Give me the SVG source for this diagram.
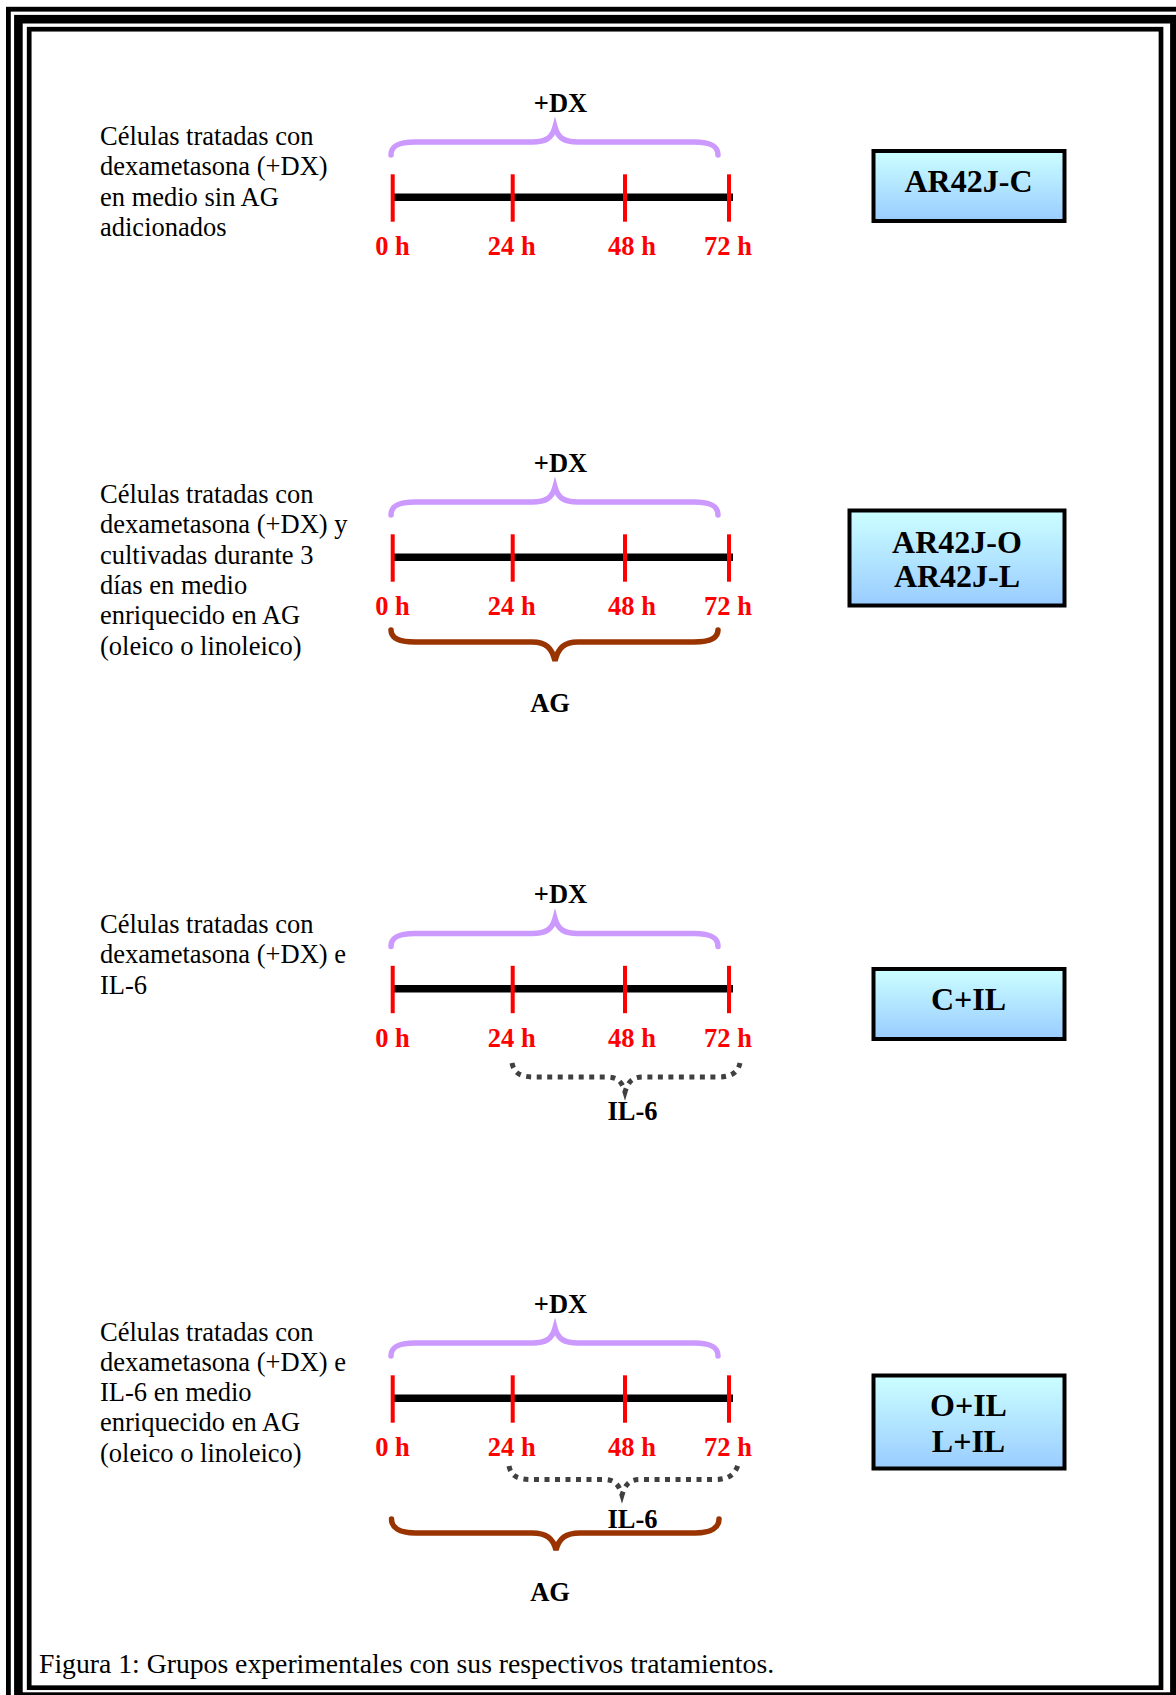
<svg xmlns="http://www.w3.org/2000/svg" width="1176" height="1695" viewBox="0 0 1176 1695">
<style>
.body{font-family:"Liberation Serif","Times New Roman",serif;font-size:26.5px;fill:#000}
.cap{font-family:"Liberation Serif","Times New Roman",serif;font-size:27.7px;fill:#000}
.lbl{font-family:"Liberation Serif","Times New Roman",serif;font-size:26.5px;font-weight:bold;fill:#000;text-anchor:middle}
.hr{font-family:"Liberation Serif","Times New Roman",serif;font-size:26.5px;font-weight:bold;fill:#FF0000;text-anchor:middle}
.box{fill:url(#bg);stroke:#000;stroke-width:4}
.boxt{font-family:"Liberation Serif","Times New Roman",serif;font-size:32px;font-weight:bold;fill:#000;text-anchor:middle}
.axis{stroke:#000;stroke-width:7.5}
.tick{stroke:#FF0000;stroke-width:4}
.dx{fill:none;stroke:#CC99FF;stroke-width:5.5;stroke-linecap:round}
.ag{fill:none;stroke:#993300;stroke-width:5.5;stroke-linecap:round}
.il{fill:none;stroke:#404040;stroke-width:5;stroke-dasharray:5 5.5}
.frame{fill:none;stroke:#000}
</style>
<defs>
<linearGradient id="bg" x1="0" y1="0" x2="0" y2="1">
<stop offset="0" stop-color="#CCFFFF"/>
<stop offset="1" stop-color="#99CCFF"/>
</linearGradient>
<g id="timeline">
<line class="axis" x1="393" y1="197.3" x2="733" y2="197.3"/>
<line class="tick" x1="392.7" y1="174.3" x2="392.7" y2="221.7"/>
<line class="tick" x1="512.7" y1="174.3" x2="512.7" y2="221.7"/>
<line class="tick" x1="625" y1="174.3" x2="625" y2="221.7"/>
<line class="tick" x1="729" y1="174.3" x2="729" y2="221.7"/>
<text class="hr" x="392.5" y="255">0 h</text>
<text class="hr" x="511.7" y="255">24 h</text>
<text class="hr" x="632" y="255">48 h</text>
<text class="hr" x="728" y="255">72 h</text>
<path class="dx" d="M391,155 C391,146 398,142 415,142 L532,142 C546,142 552,138 555,127 C558,138 564,142 578,142 L694,142 C711,142 718,146 718,155"/>
<text class="lbl" x="560.5" y="111.7">+DX</text>
</g>
</defs>

<g id="frame">
<rect class="frame" x="8.4" y="9.2" width="1173" height="1697" stroke-width="4.8"/>
<rect class="frame" x="18.4" y="19.2" width="1156" height="1677.4" stroke-width="8.6"/>
<rect class="frame" x="29.2" y="29.2" width="1131.8" height="1658.5" stroke-width="4.7"/>
</g>

<g id="group1">
<text class="body" x="100" y="145">Células tratadas con</text>
<text class="body" x="100" y="175.3">dexametasona (+DX)</text>
<text class="body" x="100" y="205.6">en medio sin AG</text>
<text class="body" x="100" y="236">adicionados</text>
<use href="#timeline"/>
</g>
<g id="box-AR42J-C">
<rect class="box" x="873.5" y="151" width="191" height="70"/>
<text class="boxt" x="968.5" y="191.7">AR42J-C</text>
</g>

<g id="group2">
<text class="body" x="100" y="503">Células tratadas con</text>
<text class="body" x="100" y="533.3">dexametasona (+DX) y</text>
<text class="body" x="100" y="563.6">cultivadas durante 3</text>
<text class="body" x="100" y="594">días en medio</text>
<text class="body" x="100" y="624.3">enriquecido en AG</text>
<text class="body" x="100" y="654.6">(oleico o linoleico)</text>
<use href="#timeline" transform="translate(0,360)"/>
<path class="ag" d="M391,630 C391,638 398,642 415,642 L532,642 C546,642 552,648 555,661 C558,648 564,642 578,642 L694,642 C711,642 718,638 718,630"/>
<text class="lbl" x="550" y="711.7">AG</text>
</g>
<g id="box-AR42J-OL">
<rect class="box" x="849.5" y="510.5" width="215" height="95"/>
<text class="boxt" x="957" y="552.5">AR42J-O</text>
<text class="boxt" x="957" y="587">AR42J-L</text>
</g>

<g id="group3">
<text class="body" x="100" y="933">Células tratadas con</text>
<text class="body" x="100" y="963.3">dexametasona (+DX) e</text>
<text class="body" x="100" y="993.6">IL-6</text>
<use href="#timeline" transform="translate(0,791.5)"/>
<path class="il" d="M512,1063 C514,1073 520,1077 535,1077 L607,1077 C618,1077 622,1082 625,1092 C628,1082 632,1077 643,1077 L718,1077 C732,1077 738,1072 740,1063"/>
<text class="lbl" x="632.5" y="1120">IL-6</text>
</g>
<g id="box-C-IL">
<rect class="box" x="873.5" y="969" width="191" height="70"/>
<text class="boxt" x="968.5" y="1009.7">C+IL</text>
</g>

<g id="group4">
<text class="body" x="100" y="1340.5">Células tratadas con</text>
<text class="body" x="100" y="1370.8">dexametasona (+DX) e</text>
<text class="body" x="100" y="1401.1">IL-6 en medio</text>
<text class="body" x="100" y="1431.4">enriquecido en AG</text>
<text class="body" x="100" y="1461.7">(oleico o linoleico)</text>
<use href="#timeline" transform="translate(0,1201)"/>
<path class="il" d="M509,1466 C511,1476 517,1479.5 532,1479.5 L604,1479.5 C615,1479.5 619,1485 622,1495 C625,1485 629,1479.5 640,1479.5 L715,1479.5 C729,1479.5 735,1474 738,1465"/>
<text class="lbl" x="632.5" y="1528.3">IL-6</text>
<path class="ag" d="M391.5,1519 C391.5,1527 398.5,1533 415.5,1533 L532,1533 C546,1533 553,1538 556,1550 C559,1538 566,1533 580,1533 L695,1533 C712,1533 719,1527 719,1519"/>
<text class="lbl" x="550" y="1600.7">AG</text>
</g>
<g id="box-O-L-IL">
<rect class="box" x="873.5" y="1375.5" width="191" height="93"/>
<text class="boxt" x="968.5" y="1416">O+IL</text>
<text class="boxt" x="968.5" y="1452">L+IL</text>
</g>

<g id="caption">
<text class="cap" x="39" y="1673">Figura 1: Grupos experimentales con sus respectivos tratamientos.</text>
</g>
</svg>
